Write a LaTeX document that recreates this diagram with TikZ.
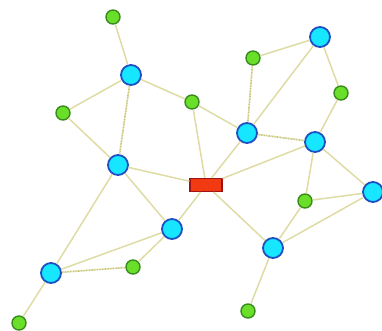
\documentclass[tikz,border=0pt]{standalone}
\usepackage{tikz}
\definecolor{tiecol}{HTML}{DEDCA4}
\definecolor{dotcol}{HTML}{C9C67A}
\definecolor{hubfill}{HTML}{16E6FF}
\definecolor{hubline}{HTML}{1F4FC2}
\definecolor{leaffill}{HTML}{6ADF2A}
\definecolor{leafline}{HTML}{3A8A1E}
\definecolor{swfill}{HTML}{F23A12}
\definecolor{swline}{HTML}{A01212}

\begin{document}
\begin{tikzpicture}[x=1pt,y=-1pt,
  hub/.style={circle,draw=hubline,fill=hubfill,line width=1.8pt,minimum size=20pt,inner sep=0pt},
  leaf/.style={circle,draw=leafline,fill=leaffill,line width=1.4pt,minimum size=14pt,inner sep=0pt},
  sw/.style={rectangle,draw=swline,fill=swfill,line width=1.2pt,minimum width=32pt,minimum height=13pt,inner sep=0pt},
  tie/.style={draw=tiecol,line width=1.5pt},
  tied/.style={draw=dotcol,line width=1.7pt,dash pattern=on 1pt off 0.6pt}]
\useasboundingbox (0,0) rectangle (382,330);
% hubs
\node[hub] (c1) at (131,75) {};
\node[hub] (c2) at (118,165) {};
\node[hub] (c3) at (320,37) {};
\node[hub] (c4) at (247,133) {};
\node[hub] (c5) at (315,142) {};
\node[hub] (c6) at (373,192) {};
\node[hub] (c7) at (172,229) {};
\node[hub] (c8) at (273,248) {};
\node[hub] (c9) at (51,273) {};
% leaves
\node[leaf] (g1) at (113,17) {};
\node[leaf] (g2) at (63,113) {};
\node[leaf] (g3) at (192,102) {};
\node[leaf] (g4) at (253,58) {};
\node[leaf] (g5) at (341,93) {};
\node[leaf] (g6) at (305,201) {};
\node[leaf] (g7) at (133,267) {};
\node[leaf] (g8) at (248,311) {};
\node[leaf] (g9) at (19,323) {};
% switch
\node[sw] (sw) at (206,185) {};
% links
\draw[tie] (g1) -- (c1);
\draw[tie] (c1) -- (g2);
\draw[tie] (c1) -- (g3);
\draw[tied] (c1) -- (c2);
\draw[tie] (g2) -- (c2);
\draw[tie] (c2) -- (sw);
\draw[tie] (c2) -- (c7);
\draw[tie] (c2) -- (c9);
\draw[tie] (g3) -- (sw);
\draw[tie] (g3) -- (c4);
\draw[tied] (g4) -- (c4);
\draw[tie] (g4) -- (c3);
\draw[tie] (c3) -- (c4);
\draw[tie] (c3) -- (g5);
\draw[tie] (g5) -- (c5);
\draw[tied] (c4) -- (c5);
\draw[tie] (c4) -- (sw);
\draw[tie] (c5) -- (sw);
\draw[tie] (c5) -- (g6);
\draw[tie] (c5) -- (c6);
\draw[tie] (g6) -- (c6);
\draw[tie] (g6) -- (c8);
\draw[tie] (c6) -- (c8);
\draw[tie] (sw) -- (c8);
\draw[tie] (sw) -- (c7);
\draw[tie] (c8) -- (g8);
\draw[tie] (c7) -- (c9);
\draw[tie] (c7) -- (g7);
\draw[tied] (c9) -- (g7);
\draw[tie] (c9) -- (g9);
\end{tikzpicture}
\end{document}
